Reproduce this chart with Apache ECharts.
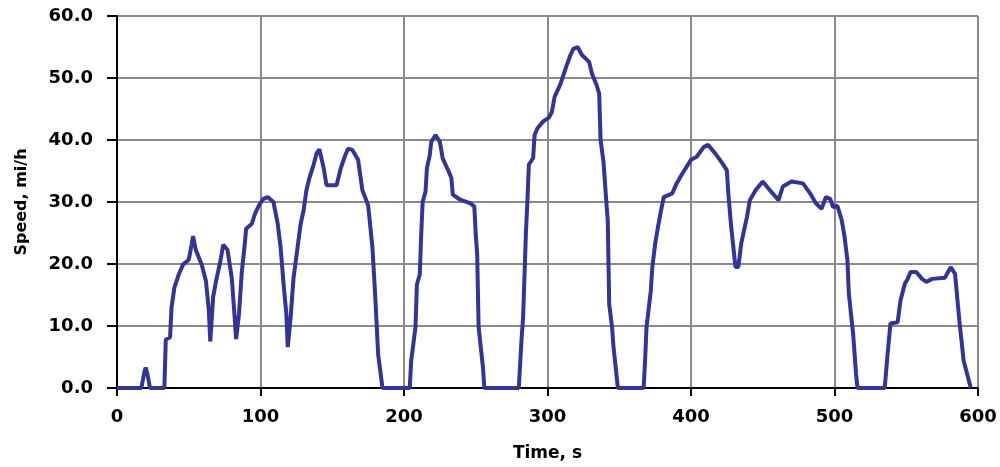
<!DOCTYPE html>
<html>
<head>
<meta charset="utf-8">
<script src="https://cdn.jsdelivr.net/npm/echarts@6/dist/echarts.min.js"></script>
<style>
  html, body { margin: 0; padding: 0; background: #ffffff; }
  #chart { width: 1000px; height: 467px; }
</style>
</head>
<body>
<div id="chart"></div>
<script>
// Drive-cycle speed trace: time (s) and vehicle speed (mi/h)
const timeSec = [
  0, 17, 19, 20, 21, 23, 33, 34, 37, 38, 40, 43, 46, 50, 52, 53, 55, 59, 62, 64,
  65, 66, 67, 69, 72, 74, 77, 80, 82, 83, 85, 87, 89, 90, 94, 96, 99, 102, 105, 109,
  112, 114, 116, 118, 119, 120, 121, 123, 126, 128, 130, 132, 134, 137, 139, 141, 144, 146, 153, 156,
  159, 161, 164, 168, 171, 175, 178, 180, 182, 185,
  204, 205, 208, 209, 211, 212, 213, 215, 216, 218, 219, 222, 225, 227, 231, 233, 234, 239,
  246, 249, 250, 251, 252, 255, 256,
  280, 282, 283, 285, 286, 287, 290, 291, 293, 297, 301, 303, 305, 309, 313, 316, 318, 321, 324,
  329, 331, 334, 336, 337, 339, 341, 342, 343, 345, 346, 348, 349,
  367, 368, 369, 372, 373, 375, 377, 379, 381, 387, 390, 394, 400, 404, 409, 412, 417, 422, 425, 426,
  428, 431, 433, 435, 439, 441, 445, 450, 455, 461, 464, 470, 478, 483, 487, 491, 494, 497, 499, 502,
  505, 507, 509, 510, 513, 515, 516,
  535, 537, 539, 544, 546, 549, 551, 553, 557, 561, 564, 568, 577, 581, 584, 587, 590, 595
];
const speedMph = [
  0, 0, 2.5, 3.3, 2.5, 0, 0, 7.8, 8.2, 13, 16.2, 18.3, 19.9, 20.7, 23.1, 24.5, 22.2, 19.9, 17.2, 12.5,
  7.5, 7.5, 14.7, 17.2, 20.4, 23.1, 22.3, 17.7, 11.4, 7.9, 11.9, 18.8, 23.1, 25.7, 26.5, 28, 29.5, 30.5, 30.8, 30,
  26.5, 22.7, 17, 12, 6.6, 6.6, 11.4, 17.7, 23, 26.5, 28.6, 31.9, 33.8, 36, 37.8, 38.5, 35.5, 32.7, 32.7, 35.5,
  37.5, 38.6, 38.4, 36.8, 31.9, 29.5, 22.7, 14.6, 5.4, 0,
  0, 4.4, 9.8, 16.7, 18.3, 24.8, 30, 31.7, 35.5, 37.6, 39.7, 40.8, 39.7, 37, 35, 33.9, 31.2, 30.4,
  29.8, 29.3, 24.8, 21.6, 9.8, 3.4, 0,
  0, 8.2, 11.4, 25.3, 30.1, 36, 37.1, 40.8, 41.9, 43, 43.6, 44.5, 47, 49, 51.8, 53.7, 54.7, 55, 53.7,
  52.6, 50.7, 49, 47.5, 40, 36.5, 30, 27, 13.5, 9.8, 6.6, 2.3, 0,
  0, 4.4, 9.8, 15.7, 19.4, 23.2, 26, 28.5, 30.8, 31.4, 33, 34.6, 36.8, 37.3, 38.9, 39.2, 37.8, 36.2, 35.1, 31.4,
  26, 19.5, 19.5, 23.3, 27.6, 30.3, 31.9, 33.3, 31.9, 30.3, 32.5, 33.3, 33, 31.4, 29.8, 28.9, 30.8, 30.5, 29.2, 29.4,
  27.1, 24.4, 20.6, 15.2, 8.7, 2.3, 0,
  0, 5.5, 10.4, 10.6, 14.1, 16.8, 17.6, 18.7, 18.7, 17.6, 17.1, 17.6, 17.8, 19.5, 18.4, 10.9, 4.4, 0
];

// Axis ranges and tick spacing
const timeTicks = { min: 0, max: 600, step: 100 };
const speedTicks = { min: 0, max: 60, step: 10 };

const tracePoints = timeSec.map((t, i) => [t, speedMph[i]]);

const labelFont = {
  fontFamily: 'DejaVu Sans',
  fontWeight: 'bold',
  fontSize: 18,
  color: '#000000'
};

const chart = echarts.init(document.getElementById('chart'), null, { renderer: 'canvas' });

chart.setOption({
  animation: false,
  backgroundColor: '#ffffff',
  grid: { left: 117, right: 22, top: 16, bottom: 76, containLabel: false },
  xAxis: {
    type: 'value',
    min: timeTicks.min,
    max: timeTicks.max,
    interval: timeTicks.step,
    name: 'Time, s',
    nameLocation: 'middle',
    nameGap: 57,
    nameTextStyle: Object.assign({}, labelFont, { fontSize: 17 }),
    axisLine: { show: true, onZero: false, lineStyle: { color: '#000000', width: 2 } },
    axisTick: { show: true, inside: false, length: 8, lineStyle: { color: '#000000', width: 2 } },
    axisLabel: Object.assign({ margin: 20 }, labelFont),
    splitLine: { show: true, lineStyle: { color: '#8a8a8a', width: 2 } }
  },
  yAxis: {
    type: 'value',
    min: speedTicks.min,
    max: speedTicks.max,
    interval: speedTicks.step,
    name: 'Speed, mi/h',
    nameLocation: 'middle',
    nameGap: 87,
    nameRotate: 90,
    nameTextStyle: Object.assign({}, labelFont, { fontSize: 16 }),
    axisLine: { show: true, onZero: false, lineStyle: { color: '#000000', width: 2 } },
    axisTick: { show: true, inside: false, length: 10, lineStyle: { color: '#000000', width: 2 } },
    axisLabel: Object.assign({
      margin: 24,
      formatter: (v) => v.toFixed(1)
    }, labelFont),
    splitLine: { show: true, lineStyle: { color: '#8a8a8a', width: 2 } }
  },
  series: [{
    type: 'line',
    data: tracePoints,
    showSymbol: false,
    smooth: false,
    lineStyle: { color: '#333399', width: 4 },
    itemStyle: { color: '#333399' },
    z: 5
  }]
});
</script>
</body>
</html>
